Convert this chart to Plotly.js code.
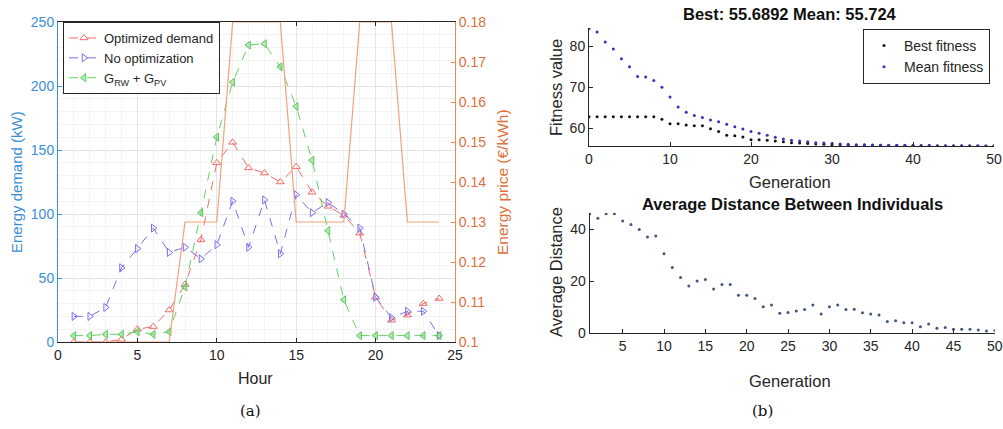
<!DOCTYPE html>
<html>
<head>
<meta charset="utf-8">
<script src="https://cdn.plot.ly/plotly-3.0.1.min.js"></script>
<style>html,body{margin:0;padding:0;background:#fff;}#chart{width:1003px;height:429px;}</style>
</head>
<body>
<div id="chart"></div>
<script>
// ---- (a) hourly energy data ----
const hours = [1,2,3,4,5,6,7,8,9,10,11,12,13,14,15,16,17,18,19,20,21,22,23,24];
const optimizedDemand = [0,0,0,2,10,12,25,45,80,140,156,136,132,125,137,117,106,99,85,35,17,21,30,34];
const noOptimization = [20,20,27,58,73,89,70,74,65,76,110,74,111,69,115,101,109,100,89,35,19,24,24,5];
const generation = [5,5,6,6,8,6,8,43,101,160,203,232,233,215,184,142,87,33,5,5,5,5,5,5];
const energyPrice = [0.10,0.10,0.10,0.10,0.10,0.10,0.10,0.13,0.13,0.13,0.18,0.18,0.18,0.18,0.13,0.13,0.13,0.13,0.18,0.18,0.18,0.13,0.13,0.13];

// ---- (b) GA progress data ----
const fitGenerations = [0,1,2,3,4,5,6,7,8,9,10,11,12,13,14,15,16,17,18,19,20,21,22,23,24,25,26,27,28,29,30,31,32,33,34,35,36,37,38,39,40,41,42,43,44,45,46,47,48,49,50];
const bestFitness = [62.8,62.8,62.8,62.8,62.8,62.8,62.8,62.8,62.8,62.2,61.1,61.1,60.8,60.6,60.6,59.9,59.2,58.3,58.2,57.9,57.2,57.2,57.1,56.9,56.7,56.5,56.4,56.3,56.2,56.1,56.0,56.0,55.95,55.9,55.9,55.85,55.85,55.8,55.8,55.8,55.75,55.75,55.75,55.72,55.72,55.7,55.7,55.7,55.69,55.69,55.69];
const meanFitness = [84.3,83.4,81.0,79.3,76.9,75.0,72.6,72.5,71.6,70.0,67.6,65.2,63.9,63.1,62.6,62.0,61.6,61.0,60.4,59.8,59.2,58.8,58.3,57.8,57.4,57.1,56.9,56.7,56.5,56.4,56.3,56.2,56.1,56.0,56.0,55.95,55.9,55.9,55.85,55.85,55.8,55.8,55.8,55.78,55.76,55.75,55.74,55.73,55.73,55.72,55.724];
const distGenerations = [1,2,3,4,5,6,7,8,9,10,11,12,13,14,15,16,17,18,19,20,21,22,23,24,25,26,27,28,29,30,31,32,33,34,35,36,37,38,39,40,41,42,43,44,45,46,47,48,49,50];
const avgDistance = [46.0,44.3,46.0,46.0,43.2,41.9,39.9,37.0,37.4,30.6,25.3,21.4,18.1,20.1,20.6,17.0,18.7,18.7,14.6,14.6,13.3,10.1,10.8,7.6,7.9,8.5,9.1,10.8,7.3,10.1,10.8,9.1,9.2,7.8,7.3,6.9,4.4,4.7,4.0,4.0,2.4,3.5,1.8,2.1,1.4,1.4,1.4,1.2,0.8,1.0];

const W = 1003, H = 429;
const px = v => v / W;
const py = v => (H - v) / H;

const FAM = 'Liberation Sans, Arial, sans-serif';
const BLUE_AX = '#3b8fd4';
const ORANGE_AX = '#dd6f3a';
const DARK = '#262626';

const traces = [
  {x: hours, y: energyPrice, xaxis: 'x', yaxis: 'y2', mode: 'lines', name: 'Energy price',
   line: {color: '#f2a27a', width: 1.2}, showlegend: false, hoverinfo: 'skip'},
  {x: hours, y: optimizedDemand, xaxis: 'x', yaxis: 'y', mode: 'lines+markers', name: 'Optimized demand',
   line: {color: '#f26b6b', width: 1, dash: 'dash'},
   marker: {symbol: 'triangle-up-open', size: 7, color: '#f26b6b', line: {width: 1}}, legend: 'legend'},
  {x: hours, y: noOptimization, xaxis: 'x', yaxis: 'y', mode: 'lines+markers', name: 'No optimization',
   line: {color: '#7a6ff0', width: 1, dash: 'dash'},
   marker: {symbol: 'triangle-right-open', size: 7, color: '#7a6ff0', line: {width: 1}}, legend: 'legend'},
  {x: hours, y: generation, xaxis: 'x', yaxis: 'y', mode: 'lines+markers', name: 'G<sub>RW</sub> + G<sub>PV</sub>',
   line: {color: '#5fd35f', width: 1, dash: 'dash'},
   marker: {symbol: 'triangle-left', size: 7, color: 'rgba(120,215,120,0.55)', line: {color: '#5fc85f', width: 1}}, legend: 'legend'},
  {x: fitGenerations, y: bestFitness, xaxis: 'x3', yaxis: 'y3', mode: 'markers', name: 'Best fitness',
   marker: {size: 3, color: '#111111'}, legend: 'legend2'},
  {x: fitGenerations, y: meanFitness, xaxis: 'x3', yaxis: 'y3', mode: 'markers', name: 'Mean fitness',
   marker: {size: 3, color: '#3333b8'}, legend: 'legend2'},
  {x: distGenerations, y: avgDistance, xaxis: 'x4', yaxis: 'y4', mode: 'markers', name: 'Average distance',
   marker: {size: 3, color: '#44557f'}, showlegend: false}
];

const tickF = {family: FAM, size: 14, color: DARK};
const axTitle = (text, x, y, opts) => Object.assign({
  text, x: px(x), y: py(y), xref: 'paper', yref: 'paper', showarrow: false,
  xanchor: 'center', yanchor: 'middle',
  font: {family: FAM, size: 16.5, color: DARK}
}, opts || {});

const layout = {
  width: W, height: H,
  margin: {l: 0, r: 0, t: 0, b: 0},
  paper_bgcolor: '#ffffff', plot_bgcolor: '#ffffff',
  font: {family: FAM, size: 13, color: DARK},
  showlegend: true,
  xaxis: {domain: [px(58), px(455)], anchor: 'y', range: [0, 25], tick0: 0, dtick: 5,
    ticks: 'inside', ticklen: 4, tickcolor: DARK, showline: true, linecolor: DARK, linewidth: 1, mirror: 'ticks',
    showgrid: true, gridcolor: '#e4e4e4', minor: {dtick: 1, showgrid: true, gridcolor: '#f3f3f3'},
    zeroline: false, tickfont: tickF},
  yaxis: {domain: [py(342), py(22)], anchor: 'x', range: [0, 250], tick0: 0, dtick: 50,
    ticks: 'inside', ticklen: 4, tickcolor: BLUE_AX, showline: true, linecolor: BLUE_AX, linewidth: 1,
    showgrid: true, gridcolor: '#e4e4e4', minor: {dtick: 10, showgrid: true, gridcolor: '#f3f3f3'},
    zeroline: false, tickfont: Object.assign({}, tickF, {color: BLUE_AX})},
  yaxis2: {overlaying: 'y', anchor: 'x', side: 'right', range: [0.1, 0.18], tick0: 0.1, dtick: 0.01,
    ticks: 'inside', ticklen: 4, tickcolor: '#e58a5a', showline: true, linecolor: '#e58a5a', linewidth: 1,
    showgrid: false, zeroline: false, tickfont: Object.assign({}, tickF, {color: ORANGE_AX})},
  xaxis3: {domain: [px(589), px(994)], anchor: 'y3', range: [0, 50], tickvals: [0,10,20,30,40,50],
    ticks: 'inside', ticklen: 4, tickcolor: DARK, showline: true, linecolor: DARK, linewidth: 1,
    showgrid: false, zeroline: false, tickfont: tickF},
  yaxis3: {domain: [py(146), py(28)], anchor: 'x3', range: [55.69, 84.4], tickvals: [60,70,80],
    ticks: 'inside', ticklen: 4, tickcolor: DARK, showline: true, linecolor: DARK, linewidth: 1,
    showgrid: false, zeroline: false, tickfont: tickF},
  xaxis4: {domain: [px(589.6), px(994.8)], anchor: 'y4', range: [1, 50], tickvals: [5,10,15,20,25,30,35,40,45,50],
    ticks: 'inside', ticklen: 4, tickcolor: DARK, showline: true, linecolor: DARK, linewidth: 1,
    showgrid: false, zeroline: false, tickfont: tickF},
  yaxis4: {domain: [py(333), py(213)], anchor: 'x4', range: [0, 46.3], tickvals: [0,20,40],
    ticks: 'inside', ticklen: 4, tickcolor: DARK, showline: true, linecolor: DARK, linewidth: 1,
    showgrid: false, zeroline: false, tickfont: tickF},
  legend: {x: px(63), y: py(22), xanchor: 'left', yanchor: 'top', bgcolor: '#ffffff',
    bordercolor: DARK, borderwidth: 1, font: {family: FAM, size: 13, color: DARK}, tracegroupgap: 0, itemwidth: 30},
  legend2: {x: px(863), y: py(29), xanchor: 'left', yanchor: 'top', bgcolor: '#ffffff',
    bordercolor: DARK, borderwidth: 1, font: {family: FAM, size: 14, color: DARK}, tracegroupgap: 0, itemwidth: 30},
  annotations: [
    axTitle('Hour', 256, 378, {font: {family: FAM, size: 16, color: DARK}}),
    axTitle('Energy demand (kW)', 17, 182, {textangle: -90, font: {family: FAM, size: 15, color: BLUE_AX}}),
    axTitle('Energy price (€/kWh)', 503, 182, {textangle: -90, font: {family: FAM, size: 15.5, color: ORANGE_AX}}),
    axTitle('<b>Best: 55.6892 Mean: 55.724</b>', 790, 14, {font: {family: FAM, size: 16.5, color: '#111'}}),
    axTitle('Fitness value', 556, 88, {textangle: -90}),
    axTitle('Generation', 790, 182),
    axTitle('<b>Average Distance Between Individuals</b>', 792, 204, {font: {family: FAM, size: 16.5, color: '#111'}}),
    axTitle('Average Distance', 556, 272, {textangle: -90}),
    axTitle('Generation', 790, 381),
    axTitle('(a)', 250, 411, {font: {family: 'DejaVu Serif, Liberation Serif, serif', size: 15, color: '#111'}}),
    axTitle('(b)', 762, 411, {font: {family: 'DejaVu Serif, Liberation Serif, serif', size: 15, color: '#111'}})
  ]
};

Plotly.newPlot('chart', traces, layout, {displayModeBar: false, staticPlot: true});
</script>
</body>
</html>
